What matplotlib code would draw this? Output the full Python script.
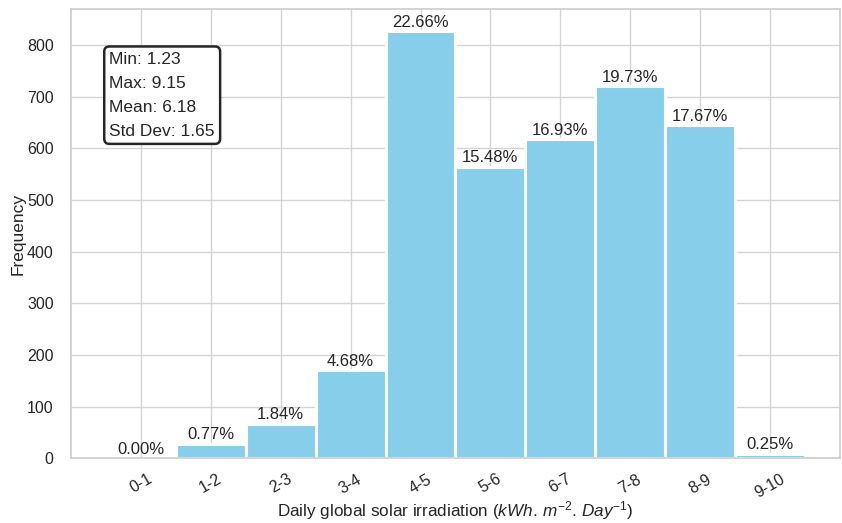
import matplotlib

matplotlib.use("Agg")
import matplotlib.pyplot as plt
import seaborn as sns

# bins of daily irradiation, counts (10 years of days)
bin_labels = ["0-1", "1-2", "2-3", "3-4", "4-5", "5-6", "6-7", "7-8", "8-9", "9-10"]
bin_left = [0, 1, 2, 3, 4, 5, 6, 7, 8, 9]
counts = [0, 28, 67, 171, 827, 565, 618, 720, 645, 9]
pct_labels = ["0.00%", "0.77%", "1.84%", "4.68%", "22.66%", "15.48%", "16.93%", "19.73%", "17.67%", "0.25%"]
stats_lines = ["Min: 1.23", "Max: 9.15", "Mean: 6.18", "Std Dev: 1.65"]

sns.set_style("whitegrid")
plt.rcParams["font.family"] = ["Liberation Sans", "DejaVu Sans"]
plt.rcParams["mathtext.fontset"] = "custom"
plt.rcParams["mathtext.it"] = "Liberation Sans:italic"
plt.rcParams["mathtext.rm"] = "Liberation Sans"

fig = plt.figure(figsize=(8.42, 5.23), dpi=100)
ax = fig.add_axes([0.0843, 0.1237, 0.9133, 0.8591])

centers = [b + 0.5 for b in bin_left]
ax.bar(centers, counts, width=1.0, color="skyblue", edgecolor="white", linewidth=2.2, zorder=2)

for x, h, lab in zip(centers, counts, pct_labels):
    ax.annotate(lab, (x, h), xytext=(0, 1), textcoords="offset points",
                ha="center", va="bottom", fontsize=12, color="#262626")

ax.set_xlim(-0.5, 10.5)
ax.set_ylim(0, 870)
ax.set_yticks(range(0, 801, 100))
ax.set_xticks(centers)
ax.set_xticklabels(bin_labels, rotation=30)
ax.tick_params(axis="x", labelsize=11.5, pad=6)
ax.tick_params(axis="y", labelsize=11.5, pad=9)
ax.grid(True, color="#d4d4d4", linewidth=1.0, zorder=0)
ax.set_axisbelow(True)
for sp in ax.spines.values():
    sp.set_color("#cccccc")
    sp.set_linewidth(1.2)

ax.set_xlabel(r"Daily global solar irradiation ($kWh.\,m^{-2}.\,Day^{-1}$)", fontsize=12.3, labelpad=-1)
ax.set_ylabel("Frequency", fontsize=12.5, labelpad=1)

ax.text(0.05, 0.905, "\n".join(stats_lines), transform=ax.transAxes, ha="left", va="top",
        fontsize=12.5, color="#262626", linespacing=1.75,
        bbox=dict(boxstyle="round,pad=0.3", facecolor="white", edgecolor="#262626", linewidth=1.8))

fig.savefig("out.png", dpi=100)
